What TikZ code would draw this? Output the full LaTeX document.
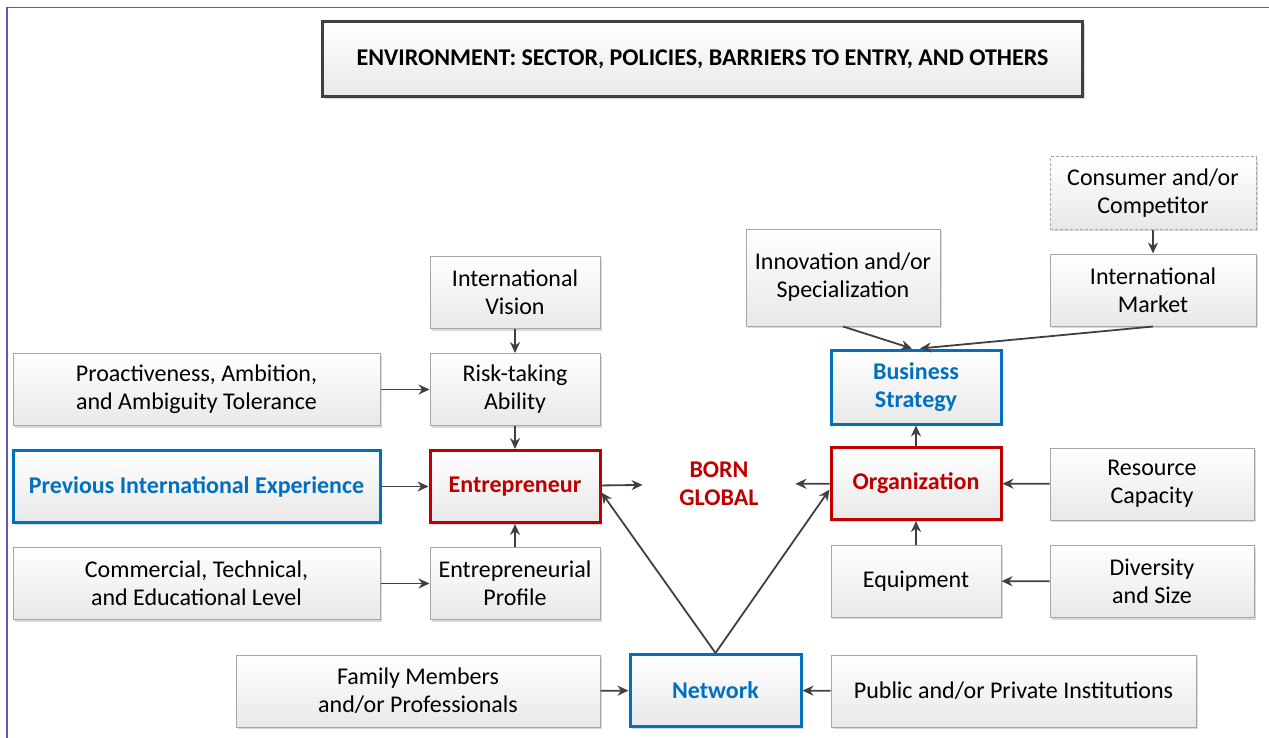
\documentclass[tikz,border=0pt]{standalone}
\usepackage{fontspec}
\setmainfont{Carlito}
\usetikzlibrary{arrows.meta,shadows}
\definecolor{boxblue}{HTML}{0070C0}
\definecolor{boxred}{HTML}{C00000}
\definecolor{linegray}{HTML}{404040}
\definecolor{framecol}{HTML}{5B5BB5}
\begin{document}
\begin{tikzpicture}[x=0.5pt, y=-0.5pt,
    font=\fontsize{12}{14}\selectfont,
    box/.style={draw=black!35, line width=0.5pt, top color=white, bottom color=black!9,
      align=center, inner sep=0pt, minimum height=36pt,
      drop shadow={shadow xshift=1pt, shadow yshift=-1pt, fill=black!25, opacity=0.6}},
    keybox/.style={box, line width=1.5pt, font=\fontsize{12}{14}\selectfont\bfseries},
    bluebox/.style={keybox, draw=boxblue, text=boxblue},
    redbox/.style={keybox, draw=boxred, text=boxred},
    arr/.style={-{Stealth[length=5.5pt, width=5pt]}, linegray, line width=0.9pt}]
  \useasboundingbox (0,0) rectangle (1269,738);
  % Frame
  \draw[framecol, line width=0.8pt] (7,738) -- (7,7.5) -- (1269,7.5);
  % Environment
  \node[box, draw=linegray, line width=1.5pt, minimum width=380pt, minimum height=37.5pt,
    font=\fontsize{12}{14}\selectfont\bfseries] (env) at (702.5,59.5)
    {ENVIRONMENT: SECTOR, POLICIES, BARRIERS TO ENTRY, AND OTHERS};
  % Entrepreneur side
  \node[box, minimum width=85pt] (vision) at (515,292.5) {International\\Vision};
  \node[box, minimum width=85pt] (risk) at (515,389.5) {Risk-taking\\Ability};
  \node[box, minimum width=183.5pt] (proact) at (196.5,389.5) {Proactiveness, Ambition,\\and Ambiguity Tolerance};
  \node[bluebox, minimum width=183.5pt] (prev) at (196.5,486.5) {Previous International Experience};
  \node[redbox, minimum width=85pt] (entre) at (515,486.5) {Entrepreneur};
  \node[box, minimum width=183.5pt] (commerc) at (196.5,583.5) {Commercial, Technical,\\and Educational Level};
  \node[box, minimum width=85pt] (profile) at (515,583.5) {Entrepreneurial\\Profile};
  % Born global
  \node[align=center, text=boxred, font=\fontsize{12}{14}\selectfont\bfseries,
    minimum width=76pt, inner sep=0pt] (born) at (719,484) {BORN\\GLOBAL};
  % Organization side
  \node[box, minimum width=97pt, minimum height=48.5pt] (innov) at (843,277.5) {Innovation and/or\\Specialization};
  \node[box, dash pattern=on 1.5pt off 1pt, minimum width=103pt] (consumer) at (1153,193) {Consumer and/or\\Competitor};
  \node[box, minimum width=103pt] (market) at (1153,290) {International\\Market};
  \node[bluebox, minimum width=85pt, minimum height=37pt] (strategy) at (916,387) {Business\\Strategy};
  \node[redbox, minimum width=85pt] (organ) at (916,483.5) {Organization};
  \node[box, minimum width=102pt] (resource) at (1152,484) {Resource\\Capacity};
  \node[box, minimum width=85pt] (equip) at (916,581) {Equipment};
  \node[box, minimum width=102pt] (divers) at (1152,581.5) {Diversity\\and Size};
  % Network
  \node[box, minimum width=182pt] (family) at (418,691) {Family Members\\and/or Professionals};
  \node[bluebox, minimum width=85.5pt] (network) at (715.5,690.5) {Network};
  \node[box, minimum width=182.5pt] (public) at (1013.5,691) {Public and/or Private Institutions};
  % Arrows
  \draw[arr] (vision) -- (risk);
  \draw[arr] (proact) -- (risk);
  \draw[arr] (risk) -- (entre);
  \draw[arr] (prev) -- (entre);
  \draw[arr] (commerc) -- (profile);
  \draw[arr] (profile) -- (entre);
  \draw[arr] (entre) -- (born);
  \draw[arr] (organ) -- (born);
  \draw[arr] (consumer) -- (market);
  \draw[arr] (innov.south) -- (strategy.96);
  \draw[arr] (market.south) -- (strategy.84);
  \draw[arr] (organ) -- (strategy);
  \draw[arr] (resource) -- (organ);
  \draw[arr] (equip) -- (organ);
  \draw[arr] (divers) -- (equip);
  \draw[arr] (network.north) -- (entre.-4);
  \draw[arr] (network.north) -- (organ.184);
  \draw[arr] (family) -- (network);
  \draw[arr] (public) -- (network);
\end{tikzpicture}
\end{document}
